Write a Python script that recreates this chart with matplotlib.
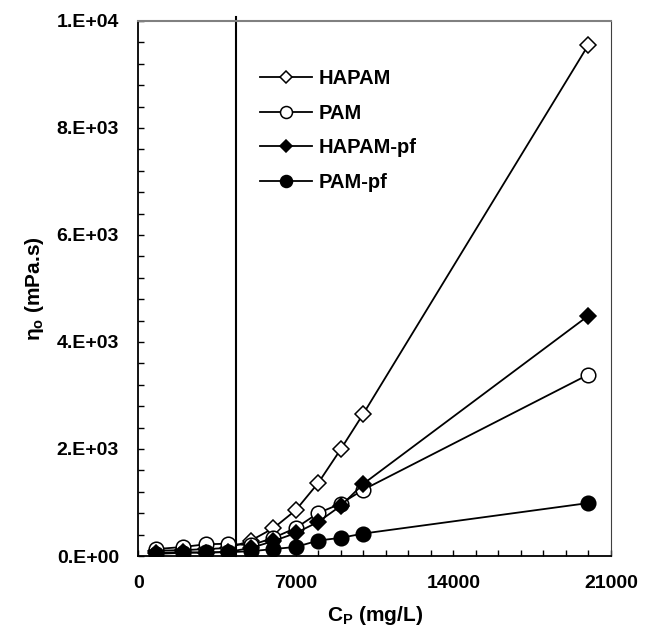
import matplotlib
matplotlib.use('Agg')
from matplotlib import pyplot as plt
from matplotlib.ticker import MultipleLocator, FuncFormatter

plt.rcParams['font.family'] = ['Liberation Sans', 'DejaVu Sans']
plt.rcParams['font.weight'] = 'bold'
plt.rcParams['mathtext.fontset'] = 'custom'
plt.rcParams['mathtext.rm'] = 'Liberation Sans:bold'
plt.rcParams['mathtext.default'] = 'rm'

# polymer concentration (mg/L)
cp = [800, 2000, 3000, 4000, 5000, 6000, 7000, 8000, 9000, 10000, 20000]

# zero-shear viscosity (mPa.s)
hapam = [100, 110, 130, 150, 290, 520, 860, 1370, 2000, 2660, 9550]
pam = [130, 170, 220, 230, 200, 340, 525, 805, 980, 1240, 3390]
hapam_pf = [60, 70, 60, 80, 150, 280, 430, 640, 940, 1350, 4490]
pam_pf = [40, 60, 70, 70, 90, 130, 170, 290, 340, 420, 990]

c_star = 4330  # vertical marker line

fig = plt.figure(figsize=(6.45, 6.34), dpi=100)
ax = fig.add_axes([0.2147, 0.123, 0.7323, 0.844])

kw = dict(color='black', linewidth=1.3, markeredgewidth=1.1, markeredgecolor='black')
ax.plot(cp, hapam, marker='D', markersize=7.8, markerfacecolor='white', label='HAPAM', **kw)
ax.plot(cp, pam, marker='o', markersize=10.5, markerfacecolor='white', label='PAM', **kw)
ax.plot(cp, hapam_pf, marker='D', markersize=7.8, markerfacecolor='black', label='HAPAM-pf', **kw)
ax.plot(cp, pam_pf, marker='o', markersize=10.5, markerfacecolor='black', label='PAM-pf', **kw)

ax.axvline(c_star, ymin=0, ymax=1.008, color='black', linewidth=1.5, clip_on=False)

ax.set_xlim(0, 21000)
ax.set_ylim(0, 10000)
ax.xaxis.set_major_locator(MultipleLocator(7000))
ax.xaxis.set_minor_locator(MultipleLocator(1000))
ax.yaxis.set_major_locator(MultipleLocator(2000))
ax.yaxis.set_minor_locator(MultipleLocator(400))


def sci(v, pos):
    m, e = ('%.0E' % v).split('E')
    return m + '.E' + e


ax.yaxis.set_major_formatter(FuncFormatter(sci))
ax.tick_params(which='both', direction='in', length=4, width=1, labelsize=14, top=False, right=False)
ax.tick_params(axis='y', which='major', pad=14)
ax.tick_params(axis='x', which='major', pad=14)

ax.spines['top'].set_color('#808080')
ax.spines['top'].set_linewidth(1.5)
ax.spines['right'].set_color('#404040')
ax.spines['left'].set_linewidth(1.3)
ax.spines['bottom'].set_linewidth(1.3)

ax.set_xlabel('C$_\\mathregular{P}$ (mg/L)', fontsize=15, fontweight='bold', labelpad=8)
ax.set_ylabel('η$_\\mathregular{o}$ (mPa.s)', fontsize=15, fontweight='bold', labelpad=8)

ax.legend(loc='upper left', bbox_to_anchor=(260 / 645, 1 - 69 / 634), bbox_transform=fig.transFigure,
          frameon=False, fontsize=14.5, handlelength=2.6, handletextpad=0.3, labelspacing=0.78,
          borderpad=0, borderaxespad=0, markerscale=0.82)

fig.savefig('out.png', dpi=100)
